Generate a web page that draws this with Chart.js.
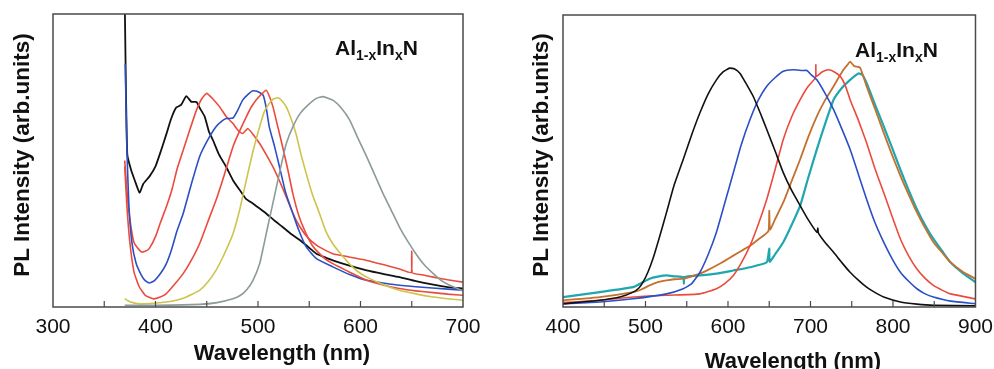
<!DOCTYPE html>
<html>
<head>
<meta charset="utf-8">
<script src="https://cdn.jsdelivr.net/npm/chart.js@4.4.1/dist/chart.umd.min.js"></script>
<style>
  html, body { margin: 0; padding: 0; background: #fff; }
  body { width: 994px; height: 369px; position: relative; overflow: hidden; font-family: "Liberation Sans", Arial, sans-serif; }
  .wrap { position: absolute; top: 0; }
  .lbl { position: absolute; font-weight: bold; font-size: 21px; color: #111; white-space: nowrap; line-height: 1; }
  .lbl sub { font-size: 14px; vertical-align: -5px; line-height: 0; }
  .ttl { position: absolute; width: 300px; text-align: center; font-weight: bold; font-size: 22px; line-height: 22px; height: 22px; color: #111; white-space: nowrap; }
  .ttl.v { font-size: 22.5px; transform: rotate(-90deg); transform-origin: 50% 50%; }
</style>
</head>
<body>
<div class="wrap" style="left:0;width:490px;height:369px"><canvas id="cL" width="490" height="369"></canvas></div>
<div class="wrap" style="left:495px;width:506px;height:369px"><canvas id="cR" width="506" height="369"></canvas></div>
<div class="lbl" style="left:335px;top:37px">Al<sub>1-x</sub>In<sub>x</sub>N</div>
<div class="lbl" style="left:855px;top:39px">Al<sub>1-x</sub>In<sub>x</sub>N</div>
<div class="ttl" id="xtL" style="left:132px;top:342px"></div>
<div class="ttl" id="xtR" style="left:643px;top:350px"></div>
<div class="ttl v" id="ytL" style="left:-128px;top:144px"></div>
<div class="ttl v" id="ytR" style="left:391px;top:144px"></div>
<script>
// ---------- DATA ----------
const xTitle = 'Wavelength (nm)';
const yTitle = 'PL Intensity (arb.units)';
const leftTicks = [300, 350, 400, 450, 500, 550, 600, 650, 700];
const rightTicks = [400, 450, 500, 550, 600, 650, 700, 750, 800, 850, 900];

// Left panel: [wavelength nm, normalized intensity]
const leftBlack = [[370,1.05],[371,0.78],[372.5,0.52],[376,0.47],[380,0.43],[384.5,0.39],[388,0.42],[394,0.445],[400,0.48],[405,0.53],[410.6,0.59],[415,0.64],[420,0.68],[425,0.69],[430,0.72],[435,0.70],[440,0.70],[443,0.68],[448,0.65],[452,0.60],[456,0.57],[462,0.52],[469,0.478],[476,0.43],[482,0.40],[488,0.37],[495,0.353],[502,0.335],[508,0.319],[516,0.295],[524,0.273],[532,0.25],[541,0.228],[549,0.205],[557,0.182],[565,0.17],[573,0.159],[590,0.14],[606,0.125],[622,0.113],[638,0.102],[654,0.088],[671,0.076],[685,0.068],[700,0.063]];
const leftRedA = [[370,0.50],[372,0.40],[375,0.30],[379,0.22],[386,0.188],[390,0.19],[394,0.20],[400,0.24],[405,0.29],[410.6,0.342],[416,0.40],[421,0.47],[427,0.535],[433,0.60],[440,0.672],[445,0.71],[450,0.729],[456,0.71],[462.6,0.683],[469,0.65],[475.6,0.626],[480,0.605],[485,0.592],[490,0.609],[495,0.59],[501.6,0.558],[508,0.52],[514.6,0.478],[521,0.43],[527.6,0.376],[534,0.32],[541,0.273],[549,0.235],[557,0.211],[565,0.195],[573,0.182],[590,0.17],[606,0.159],[622,0.145],[638,0.13],[649.5,0.118],[650,0.19],[650.5,0.117],[660,0.11],[671,0.102],[685,0.093],[700,0.085]];
const leftRedB = [[370,0.48],[372,0.35],[375,0.22],[379,0.12],[384,0.07],[390,0.04],[397.6,0.028],[404,0.033],[410.6,0.046],[418,0.075],[427,0.114],[435,0.16],[443,0.216],[451,0.29],[459,0.364],[467,0.45],[475.6,0.547],[482,0.60],[488.6,0.649],[493,0.68],[498,0.706],[503,0.725],[508,0.74],[511,0.72],[514.6,0.683],[519,0.62],[524,0.547],[529,0.47],[534,0.387],[540,0.31],[547,0.25],[553,0.21],[560,0.182],[566,0.163],[573,0.148],[590,0.118],[606,0.091],[622,0.075],[638,0.063],[654,0.055],[671,0.049],[685,0.044],[700,0.04]];
const leftBlue = [[370.5,0.83],[372,0.55],[374,0.35],[377,0.22],[381,0.15],[386,0.11],[390,0.09],[394,0.082],[399,0.09],[405,0.115],[410.6,0.148],[416,0.20],[421,0.26],[427,0.319],[435,0.42],[443,0.513],[451,0.57],[459,0.615],[465,0.635],[469,0.643],[475.6,0.645],[480,0.67],[485,0.706],[490,0.725],[495,0.738],[500,0.735],[505,0.723],[508,0.68],[511,0.615],[516,0.55],[521,0.478],[527,0.39],[534,0.319],[540,0.26],[547,0.205],[557,0.165],[573,0.137],[590,0.11],[606,0.091],[622,0.082],[638,0.074],[670,0.065],[700,0.057]];
const leftYellow = [[370,0.028],[375,0.018],[384,0.011],[395,0.012],[410.6,0.017],[427,0.03],[443,0.057],[451,0.085],[459,0.125],[467,0.18],[475.6,0.25],[482,0.33],[488.6,0.433],[495,0.53],[501.6,0.615],[506,0.665],[511,0.695],[515,0.71],[519.5,0.714],[523,0.705],[527.6,0.683],[532,0.645],[537,0.592],[542,0.52],[547,0.456],[553,0.385],[560,0.319],[566,0.26],[573,0.216],[581,0.18],[589,0.148],[597,0.122],[606,0.102],[622,0.077],[638,0.057],[655,0.044],[671,0.034],[685,0.028],[700,0.023]];
const leftGray = [[370,0.006],[400,0.006],[443,0.009],[460,0.015],[475.6,0.028],[483,0.04],[488.6,0.057],[495,0.09],[501.6,0.148],[505,0.20],[508,0.25],[513,0.33],[518,0.41],[523,0.49],[527.6,0.558],[534,0.615],[541,0.66],[549,0.69],[557,0.712],[563.5,0.718],[573,0.706],[581,0.68],[589.5,0.638],[597,0.58],[606,0.513],[614,0.45],[622,0.387],[630,0.33],[638,0.273],[646,0.225],[654,0.182],[662,0.145],[671,0.114],[679,0.09],[687,0.074],[700,0.055]];

// Right panel
const rightBlack = [[400,0.011],[444.5,0.023],[470,0.035],[485,0.051],[492,0.065],[497,0.085],[503,0.12],[509,0.165],[517,0.24],[525.5,0.324],[535,0.42],[545.8,0.506],[556,0.59],[566,0.665],[576,0.73],[586,0.778],[594,0.805],[602,0.818],[608,0.815],[614.6,0.80],[622,0.765],[630.8,0.72],[639,0.665],[647,0.608],[657,0.535],[667,0.46],[677,0.40],[687.5,0.347],[697,0.30],[707.7,0.256],[709,0.27],[709.5,0.254],[718,0.22],[728,0.1875],[738,0.152],[748,0.119],[758,0.092],[768,0.068],[778,0.05],[788.7,0.034],[809,0.017],[829,0.01],[849,0.006],[900,0.004]];
const rightBlue = [[400,0.011],[444.5,0.017],[485,0.028],[525.5,0.045],[545.8,0.0625],[556,0.08],[566,0.119],[576,0.18],[586,0.256],[596,0.355],[606.5,0.46],[616,0.555],[626.7,0.642],[637,0.71],[647,0.756],[657,0.785],[667,0.807],[679,0.8125],[690,0.81],[695.6,0.81],[701,0.795],[707.7,0.778],[718,0.73],[728,0.676],[738,0.61],[748,0.54],[758,0.455],[768,0.369],[778,0.29],[788.7,0.222],[799,0.165],[809,0.119],[819,0.088],[829,0.0625],[839,0.045],[849,0.034],[870,0.02],[900,0.011]];
const rightRed = [[400,0.015],[444.5,0.023],[485,0.034],[525.5,0.04],[566,0.045],[586,0.0625],[596,0.08],[606.5,0.108],[616,0.15],[626.7,0.21],[637,0.285],[647,0.369],[657,0.47],[667,0.574],[677,0.65],[687.5,0.71],[697,0.755],[706,0.785],[706.5,0.83],[707,0.79],[714,0.805],[722,0.8125],[729,0.805],[736,0.79],[742,0.76],[748,0.71],[758,0.64],[768,0.5625],[778,0.475],[788.7,0.392],[799,0.31],[809,0.233],[819,0.175],[829,0.13],[839,0.098],[849,0.074],[860,0.057],[869.7,0.045],[900,0.028]];
const rightOrange = [[400,0.023],[444.5,0.034],[485,0.051],[495,0.06],[505,0.074],[515,0.085],[525.5,0.091],[535,0.095],[545.8,0.097],[556,0.105],[566,0.114],[576,0.127],[586,0.142],[596,0.158],[606.5,0.176],[616,0.192],[626.7,0.21],[637,0.232],[649,0.26],[650,0.33],[651,0.265],[657,0.30],[667,0.358],[677,0.43],[687.5,0.506],[697,0.58],[707.7,0.653],[718,0.71],[728,0.756],[734,0.785],[740,0.8125],[745,0.83],[748,0.84],[753,0.825],[760,0.82],[764,0.79],[768,0.756],[778,0.68],[788.7,0.597],[799,0.52],[809,0.449],[819,0.385],[829,0.324],[839,0.27],[849,0.222],[860,0.185],[869.7,0.153],[885,0.12],[900,0.097]];
const rightTeal = [[400,0.034],[444.5,0.051],[485,0.068],[495,0.082],[505,0.097],[515,0.104],[525.5,0.108],[535,0.105],[545.8,0.102],[546.5,0.08],[547,0.102],[556,0.106],[566,0.108],[586,0.114],[606.5,0.125],[626.7,0.136],[647,0.153],[650,0.20],[650.5,0.155],[657,0.18],[667,0.222],[677,0.28],[687.5,0.347],[697,0.44],[707.7,0.54],[718,0.63],[728,0.71],[738,0.75],[748,0.778],[758,0.80],[763,0.795],[768,0.767],[778,0.695],[788.7,0.619],[799,0.545],[809,0.47],[819,0.40],[829,0.335],[839,0.28],[849,0.233],[860,0.19],[869.7,0.153],[885,0.115],[900,0.085]];

// ---------- STYLE / BUILD ----------
['xtL','xtR'].forEach(id => { document.getElementById(id).textContent = xTitle; });
['ytL','ytR'].forEach(id => { document.getElementById(id).textContent = yTitle; });

const COL = { black:'#111111', red:'#ec4a3c', blue:'#2b4fc4', yellow:'#cdc44c', gray:'#8e9a9a', orange:'#c4702e', teal:'#1fa6ae' };
const FONT = '"Liberation Sans", Arial, sans-serif';

function ds(pairs, color, w) {
  return { data: pairs.map(p => ({x:p[0], y:p[1]})), borderColor: color, borderWidth: w || 1.6,
           pointRadius: 0, tension: 0.15, fill: false };
}

const framePlugin = {
  id: 'frame',
  afterDraw(chart, args, opts) {
    const {ctx, chartArea: a, scales: {x}} = chart;
    ctx.save();
    ctx.strokeStyle = '#4a4a4a';
    ctx.lineWidth = 1.5;
    ctx.strokeRect(a.left, a.top, a.right - a.left, a.bottom - a.top);
    ctx.lineWidth = 1.2;
    opts.ticks.forEach(v => {
      const px = x.getPixelForValue(v);
      if (px <= a.left + 1 || px >= a.right - 1) return;
      ctx.beginPath();
      ctx.moveTo(px, a.bottom);
      ctx.lineTo(px, a.bottom - 6);
      ctx.stroke();
    });
    ctx.restore();
  }
};

function makeChart(id, datasets, xmin, xmax, ticks, pad, yAxisW) {
  return new Chart(document.getElementById(id), {
    type: 'line',
    data: { datasets },
    plugins: [framePlugin],
    options: {
      responsive: false, animation: false, devicePixelRatio: 1,
      layout: { padding: pad },
      plugins: { legend: { display: false }, tooltip: { enabled: false }, frame: { ticks } },
      scales: {
        x: {
          type: 'linear', min: xmin, max: xmax,
          afterBuildTicks: s => { s.ticks = ticks.map(v => ({value: v})); },
          afterFit: s => { s.height = 62; },
          grid: { display: false, drawTicks: false },
          border: { display: false },
          ticks: { autoSkip: false, maxRotation: 0, padding: 8, color: '#111',
                   font: { family: FONT, size: 21 },
                   callback: v => (v % 100 === 0 ? String(v) : '') },
          title: { display: false }
        },
        y: {
          min: 0, max: 1,
          afterFit: s => { s.width = yAxisW; },
          grid: { display: false, drawTicks: false },
          border: { display: false },
          ticks: { display: false },
          title: { display: false }
        }
      }
    }
  });
}

makeChart('cL', [
  ds(leftGray, COL.gray), ds(leftYellow, COL.yellow), ds(leftRedB, COL.red),
  ds(leftBlue, COL.blue), ds(leftRedA, COL.red), ds(leftBlack, COL.black, 1.8)
], 300, 700, leftTicks, {top: 14, right: 27, left: 0, bottom: 0}, 53);

makeChart('cR', [
  ds(rightBlack, COL.black), ds(rightBlue, COL.blue), ds(rightRed, COL.red),
  ds(rightOrange, COL.orange, 1.8), ds(rightTeal, COL.teal, 2.2)
], 400, 900, rightTicks, {top: 15, right: 19, left: 0, bottom: 0}, 68);
</script>
</body>
</html>
